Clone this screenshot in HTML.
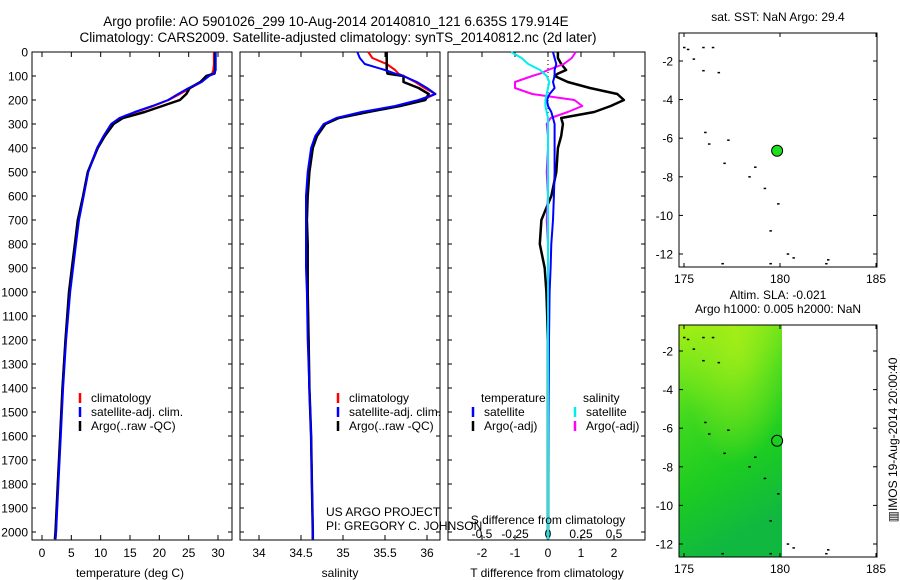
<!DOCTYPE html>
<html><head><meta charset="utf-8"><style>
html,body{margin:0;padding:0;background:#fff;}
svg{display:block;font-family:"Liberation Sans",sans-serif;}
</style></head><body>
<svg id="c" width="900" height="580" viewBox="0 0 900 580" xmlns="http://www.w3.org/2000/svg">
<defs>
<linearGradient id="g1" x1="0" y1="0" x2="0.25" y2="1">
<stop offset="0" stop-color="#a8f010"/><stop offset="0.15" stop-color="#7ee81a"/><stop offset="0.4" stop-color="#3fd81e"/><stop offset="0.7" stop-color="#1ccc22"/><stop offset="1" stop-color="#10b840"/>
</linearGradient>
<radialGradient id="g2" cx="0.55" cy="0.05" r="0.55">
<stop offset="0" stop-color="#a6ee18" stop-opacity="0.9"/><stop offset="1" stop-color="#a6ee18" stop-opacity="0"/>
</radialGradient>
</defs>
<g id="root"></g>
</svg>
<script>
// ---------- data ----------
const depths = [0,25,50,75,90,100,125,150,175,200,225,250,275,300,350,400,500,600,700,800,900,1000,1200,1400,1600,1800,2000,2030];
const tempArgo = [29.5,29.5,29.5,29.5,29.4,28,27,25.2,24.6,23.5,20.5,17.5,13.8,12.2,10.7,9.5,7.8,7.0,6.1,5.6,5.1,4.6,4.0,3.5,3.1,2.7,2.3,2.2];
const tempClim = [29.3,29.3,29.3,29.2,29.0,28.3,27.2,25.3,23.5,21.6,19.0,16.0,13.3,11.8,10.5,9.4,7.8,7.0,6.2,5.7,5.2,4.7,4.0,3.5,3.1,2.7,2.4,2.3];
const tempSat = [29.6,29.6,29.6,29.6,29.3,28.5,27.2,25.0,23.2,21.5,18.8,15.8,13.2,11.8,10.5,9.4,7.9,7.1,6.3,5.8,5.3,4.8,4.1,3.6,3.2,2.8,2.4,2.3];
const salArgo = [35.52,35.52,35.52,35.52,35.53,35.72,35.72,35.9,36.02,35.98,35.68,35.3,34.95,34.79,34.69,34.64,34.6,34.58,34.57,34.58,34.58,34.58,34.59,34.6,34.62,34.63,34.64,34.64];
const salClim = [35.3,35.35,35.52,35.62,35.66,35.72,35.86,35.97,36.1,35.95,35.65,35.25,34.93,34.78,34.68,34.63,34.59,34.57,34.57,34.57,34.57,34.58,34.59,34.6,34.62,34.63,34.64,34.64];
const salSat = [35.17,35.2,35.26,35.5,35.62,35.72,35.88,36.0,36.1,35.9,35.62,35.22,34.92,34.77,34.67,34.62,34.58,34.56,34.56,34.56,34.56,34.57,34.58,34.6,34.62,34.63,34.64,34.64];
const tDiffArgo = [0.3,0.3,0.4,0.55,0.3,0.2,0.6,1.27,2.1,2.3,1.9,1.4,0.4,0.45,0.4,0.3,0.25,0.1,-0.2,-0.25,-0.1,-0.05,0,0,0,0,0,0];
const tDiffSat = [0.15,0.2,0.25,0.2,0.2,0.2,0.15,0.2,0.05,-0.03,0.0,0.1,0.15,0.2,0.2,0.2,0.2,0.18,0.15,0.1,0.08,0.05,0.03,0.02,0.01,0.0,0.0,0.0];
const sDiffSat = [-0.28,-0.2,-0.15,-0.06,-0.03,-0.01,0.01,0.0,-0.01,-0.02,-0.02,-0.01,0.0,0.0,0.0,0.0,0.0,0.0,0.0,0.0,0.0,0.0,0.0,0.0,0.0,0.0,0.0,0.0];
const sDiffArgo = [0.21,0.18,0.12,0.0,-0.06,-0.12,-0.25,-0.25,-0.12,0.2,0.26,0.15,0.02,-0.01,0.0,0.0,-0.01,0.0,-0.01,0.0,0.0,0.0,0.0,0.0,0.0,0.0,0.0,0.0];
const depthTicks = [0,100,200,300,400,500,600,700,800,900,1000,1100,1200,1300,1400,1500,1600,1700,1800,1900,2000];
const tempTicks = [0,5,10,15,20,25,30];
const salTicks = [34,34.5,35,35.5,36];
const tdTicks = [-2,-1,0,1,2];
const sdTicks = [-0.5,-0.25,0,0.25,0.5];
const lonTicks = [175,180,185];
const latTicks = [-2,-4,-6,-8,-10,-12];
const islands = [[175.0,-1.3],[175.2,-1.4],[175.5,-1.9],[176,-1.3],[176.5,-1.3],[176,-2.5],[176.8,-2.6],[176.1,-5.7],[176.3,-6.3],[177.3,-6.1],[177.1,-7.3],[178.7,-7.5],[178.4,-8.0],[179.2,-8.6],[179.9,-9.4],[179.5,-10.8],[180.4,-12.0],[180.7,-12.2],[182.5,-12.3],[182.4,-12.5],[177,-12.5],[179.5,-12.5]];
const floatPos = [179.85,-6.65];

// ---------- helpers ----------
const NS="http://www.w3.org/2000/svg";
const root=document.getElementById('root');
function el(tag,attrs,parent,txt){const e=document.createElementNS(NS,tag);for(const k in attrs)e.setAttribute(k,attrs[k]);if(txt!==undefined)e.textContent=txt;(parent||root).appendChild(e);return e;}
const yD = d => 52 + d*0.24;
const lin=(d0,d1,r0,r1)=>v=>r0+(v-d0)*(r1-r0)/(d1-d0);
const xT = lin(0,30,42,218);
const xS = lin(34,36,259,427);
const xTD = lin(0,1,548,581);
const xSD = lin(0,0.25,548,581);

function panel(x0,x1,name){
  const g=el('g',{},root);
  
  
  el('rect',{x:x0,y:52,width:x1-x0,height:488,fill:'none',stroke:'#000','stroke-width':1},g);
  return g;
}
function line(g,xs,ys,fx,color,w,name){
  let d='';
  for(let i=0;i<xs.length;i++){d+=(i?'L':'M')+fx(xs[i]).toFixed(1)+','+yD(ys[i]).toFixed(1);}
  const p=el('path',{d:d,fill:'none',stroke:color,'stroke-width':w,'stroke-linejoin':'round'},g);
  
  
}

// titles
const t1=el('text',{x:336,y:26,'text-anchor':'middle','font-size':13.5},root,'Argo profile: AO 5901026_299 10-Aug-2014 20140810_121 6.635S 179.914E');

const t2=el('text',{x:338,y:42,'text-anchor':'middle','font-size':13.5},root,'Climatology: CARS2009. Satellite-adjusted climatology: synTS_20140812.nc (2d later)');


// ----- panel 1 temperature -----
const p1=panel(32,232,'temperature-panel');
depthTicks.forEach(d=>{
  const y=yD(d);
  el('line',{x1:32,y1:y,x2:36,y2:y,stroke:'#000'},p1);el('line',{x1:228,y1:y,x2:232,y2:y,stroke:'#000'},p1);
  const t=el('text',{x:28,y:y+4.5,'text-anchor':'end','font-size':12},p1,String(d));
  
});
tempTicks.forEach(v=>{
  const x=xT(v);
  el('line',{x1:x,y1:540,x2:x,y2:535,stroke:'#000'},p1);el('line',{x1:x,y1:52,x2:x,y2:57,stroke:'#000'},p1);
  const t=el('text',{x:x,y:557,'text-anchor':'middle','font-size':12},p1,String(v));
  
});
line(p1,tempClim,depths,xT,'#f00',2,'temperature-climatology-line');
line(p1,tempArgo,depths,xT,'#000',2.5,'temperature-argo-line');
line(p1,tempSat,depths,xT,'#00f',2,'temperature-satellite-line');
const xl1=el('text',{x:130,y:577,'text-anchor':'middle','font-size':12},p1,'temperature (deg C)');


function legend(g,x,y,items,name){
  const lg=el('g',{},g);
  
  items.forEach((it,i)=>{
    const yy=y+i*14;
    el('line',{x1:x,y1:yy-9,x2:x,y2:yy+1,stroke:it[1],'stroke-width':2.5},lg);
    const t=el('text',{x:x+11,y:yy,'font-size':12},lg,it[0]);
    
  });
}
legend(p1,80,402,[['climatology','#f00'],['satellite-adj. clim.','#00f'],['Argo(..raw -QC)','#000']],'temperature-legend');

// ----- panel 2 salinity -----
const p2=panel(240,440,'salinity-panel');
depthTicks.forEach(d=>{const y=yD(d);el('line',{x1:240,y1:y,x2:244,y2:y,stroke:'#000'},p2);el('line',{x1:436,y1:y,x2:440,y2:y,stroke:'#000'},p2);});
salTicks.forEach(v=>{
  const x=xS(v);
  el('line',{x1:x,y1:540,x2:x,y2:535,stroke:'#000'},p2);el('line',{x1:x,y1:52,x2:x,y2:57,stroke:'#000'},p2);
  const t=el('text',{x:x,y:557,'text-anchor':'middle','font-size':12},p2,String(v));
  
});
line(p2,salClim,depths,xS,'#f00',2,'salinity-climatology-line');
line(p2,salArgo,depths,xS,'#000',2.5,'salinity-argo-line');
line(p2,salSat,depths,xS,'#00f',2,'salinity-satellite-line');
const xl2=el('text',{x:340,y:577,'text-anchor':'middle','font-size':12},p2,'salinity');

legend(p2,338,402,[['climatology','#f00'],['satellite-adj. clim.','#00f'],['Argo(..raw -QC)','#000']],'salinity-legend');
const c1=el('text',{x:326,y:516,'font-size':12},root,'US ARGO PROJECT');

const c2=el('text',{x:326,y:530,'font-size':12},root,'PI: GREGORY C. JOHNSON');


// ----- panel 3 differences -----
const p3=panel(448,645,'difference-panel');
depthTicks.forEach(d=>{const y=yD(d);el('line',{x1:448,y1:y,x2:452,y2:y,stroke:'#000'},p3);el('line',{x1:641,y1:y,x2:645,y2:y,stroke:'#000'},p3);});
tdTicks.forEach(v=>{
  const x=xTD(v);
  el('line',{x1:x,y1:540,x2:x,y2:535,stroke:'#000'},p3);el('line',{x1:x,y1:52,x2:x,y2:57,stroke:'#000'},p3);
  const t=el('text',{x:x,y:557,'text-anchor':'middle','font-size':12},p3,String(v));
  
});
sdTicks.forEach(v=>{
  const t=el('text',{x:xSD(v),y:538,'text-anchor':'middle','font-size':12},p3,String(v));
  
});
el('line',{x1:548,y1:52,x2:548,y2:540,stroke:'#000','stroke-dasharray':'1,3'},p3);
line(p3,tDiffArgo,depths,xTD,'#000',2.5,'t-diff-argo-line');
line(p3,sDiffArgo,depths,xSD,'#f0f',2,'s-diff-argo-line');
line(p3,tDiffSat,depths,xTD,'#00f',2,'t-diff-satellite-line');
line(p3,sDiffSat,depths,xSD,'#0ee',2,'s-diff-satellite-line');
const sl=el('text',{x:548,y:524,'text-anchor':'middle','font-size':12},p3,'S difference from climatology');

const tl=el('text',{x:547,y:577,'text-anchor':'middle','font-size':12},p3,'T difference from climatology');

const lh1=el('text',{x:481,y:402,'font-size':12},p3,'temperature');
const lh2=el('text',{x:583,y:402,'font-size':12},p3,'salinity');
legend(p3,473,416,[['satellite','#00f'],['Argo(-adj)','#000']],'diff-temperature-legend');
legend(p3,575,416,[['satellite','#0ee'],['Argo(-adj)','#f0f']],'diff-salinity-legend');

// ----- maps -----
function map(top,bottom,name,title,lat0,filled){
  const g=el('g',{},root);
  
  const xL=lin(175,185,684,876), yL=v=>lat0+(-2-v)*19.3;
  if(filled){
    const r=el('rect',{x:679,y:top,width:xL(180)-679+2,height:bottom-top,fill:'url(#g1)'},g);
    
    el('rect',{x:679,y:top,width:xL(180)-679+2,height:bottom-top,fill:'url(#g2)'},g);
  }
  el('rect',{x:679,y:top,width:198,height:bottom-top,fill:'none',stroke:'#000'},g);
  lonTicks.forEach(v=>{const x=xL(v);
    el('line',{x1:x,y1:bottom,x2:x,y2:bottom-4,stroke:'#000'},g);el('line',{x1:x,y1:top,x2:x,y2:top+4,stroke:'#000'},g);
    const t=el('text',{x:x,y:bottom+16,'text-anchor':'middle','font-size':12},g,String(v));
    });
  latTicks.forEach(v=>{const y=yL(v);
    el('line',{x1:679,y1:y,x2:683,y2:y,stroke:'#000'},g);el('line',{x1:873,y1:y,x2:877,y2:y,stroke:'#000'},g);
    const t=el('text',{x:673,y:y+4.5,'text-anchor':'end','font-size':12},g,String(v));
    });
  islands.forEach(p=>{const s=el('rect',{x:xL(p[0])-1,y:yL(p[1])-0.7,width:2.5,height:1.5,fill:'#000'},g);
    });
  const c=el('circle',{cx:xL(floatPos[0]),cy:yL(floatPos[1]),r:5.5,fill:filled?'none':'#1ee01e',stroke:'#000','stroke-width':1},g);
  
  title.forEach((s,i)=>{const t=el('text',{x:778,y:top-12-(title.length-1-i)*14,'text-anchor':'middle','font-size':12},g,s);
    });
}
map(33,267,'sst-map',['sat. SST: NaN Argo: 29.4'],61,false);
map(325,557,'sla-map',['Altim. SLA: -0.021','Argo h1000: 0.005 h2000: NaN'],351,true);
const im=el('text',{x:0,y:0,'text-anchor':'middle','font-size':12,transform:'translate(897,440) rotate(-90)'},root,'\u25A5IMOS 19-Aug-2014 20:00:40');

</script>
</body></html>
